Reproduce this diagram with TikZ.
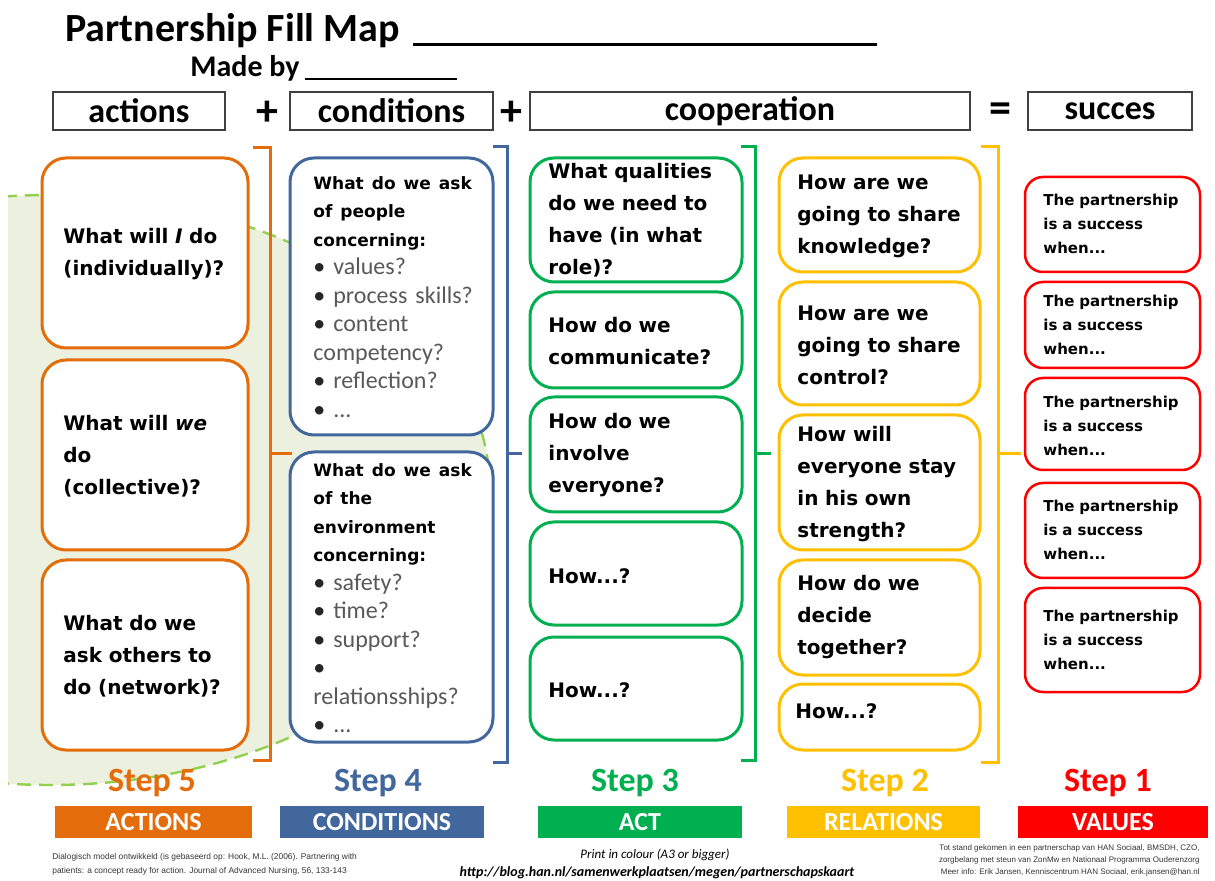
\documentclass[tikz,border=0pt]{standalone}
\usepackage{fontspec}
\setmainfont{Carlito}
\newfontfamily\qfont{DejaVu Sans}
\newfontfamily\notefont{Liberation Sans}

\definecolor{stepfive}{HTML}{E46C0A}
\definecolor{stepfour}{HTML}{41679C}
\definecolor{stepthree}{HTML}{00B050}
\definecolor{steptwo}{HTML}{FFC000}
\definecolor{stepone}{HTML}{FF0000}
\definecolor{fieldgreen}{HTML}{EBF1DE}
\definecolor{fielddash}{HTML}{92D050}
\definecolor{askgray}{HTML}{595959}

% header of a blue box and one bullet line in it
\newcommand\askhead{\qfont\bfseries\fontsize{8.5}{14.25}\selectfont}
\newcommand\askplain{\rmfamily\mdseries\fontsize{12}{14.25}\selectfont\color{askgray}}
\newcommand\askitem[1]{\rmfamily\mdseries\fontsize{12}{14.25}\selectfont{\color{black!85}•}~{\color{askgray}#1}}

\tikzset{
  qbox/.style={draw=#1, line width=1.5pt, rounded corners=12pt, fill=white},
  valbox/.style={draw=stepone, line width=1.25pt, rounded corners=9pt, fill=white},
  qtext/.style={anchor=west, inner sep=0pt, align=left, text width=95pt,
    font=\qfont\bfseries\fontsize{10}{16}\selectfont},
  asktext/.style={anchor=west, inner sep=0pt, align=left, text width=92pt,
    font=\fontsize{12}{14.25}\selectfont},
  valtext/.style={anchor=west, inner sep=0pt, align=left, text width=80pt,
    font=\qfont\bfseries\fontsize{7.5}{12}\selectfont},
  headbox/.style={draw=black!75, line width=0.8pt, inner sep=0pt,
    minimum height=19pt, font=\bfseries\fontsize{17}{20}\selectfont},
  brack/.style={draw=#1, line width=1.5pt},
  steplabel/.style={font=\bfseries\fontsize{17}{20}\selectfont, inner sep=0pt},
  stepbar/.style={minimum height=16pt, inner sep=0pt, text=white,
    font=\bfseries\fontsize{13}{15}\selectfont}
}

\begin{document}
\begin{tikzpicture}[
  % one unit is one pixel of the 1215 x 881 sheet, y runs downward
  x=0.5pt,
  y=-0.5pt
]

\useasboundingbox (0,0) rectangle (1215,881);

% Green field behind the first two columns
\begin{scope}
  \clip (8,0) rectangle (1215,881);
  \draw[fill=fieldgreen, draw=fielddash, line width=1.2pt, dash pattern=on 7pt off 4pt]
    (50,490) ellipse [x radius=220pt, y radius=147.5pt];
\end{scope}

% Title and "Made by"
\node[anchor=base west, inner sep=0pt, font=\bfseries\fontsize{20}{24}\selectfont] (title) at (65,42) {Partnership Fill Map};
\draw[line width=1.5pt] (413,45) -- (877,45);
\node[anchor=base west, inner sep=0pt, font=\bfseries\fontsize{15}{18}\selectfont] (madeby) at (190,77) {Made by};
\draw[line width=1pt] (305,79) -- (457,79);

% Header row: actions + conditions + cooperation = succes
\node[headbox, minimum width=86pt] (hactions) at (139,111) {actions};
\node[font=\bfseries\fontsize{22}{22}\selectfont, inner sep=0pt] (plusa) at (267,113) {+};
\node[headbox, minimum width=101.5pt] (hconditions) at (391.5,111) {conditions};
\node[font=\bfseries\fontsize{22}{22}\selectfont, inner sep=0pt] (plusb) at (511,113) {+};
\node[headbox, minimum width=220pt] (hcooperation) at (750,111) {cooperation};
\node[font=\bfseries\fontsize{22}{22}\selectfont, inner sep=0pt] (equals) at (1000,113) {=};
\node[headbox, minimum width=82pt] (hsucces) at (1110,111) {succes};

% Step 5: actions
\draw[qbox=stepfive] (42,158) rectangle (248,348);
\node[qtext] (act1) at (63,254) {What will \textit{I} do\\(individually)?};
\draw[qbox=stepfive] (42,360) rectangle (248,550);
\node[qtext] (act2) at (63,456) {What will \textit{we}\\do\\(collective)?};
\draw[qbox=stepfive] (42,560) rectangle (248,750);
\node[qtext] (act3) at (63,656) {What do we\\ask others to\\do (network)?};
\draw[brack=stepfive] (253,148) -- (270,148) -- (270,760) -- (253,760)
      (270,454) -- (292,454);

% Step 4: conditions
\draw[qbox=stepfour] (290,158) rectangle (493,435);
\node[asktext] (cond1) at (313,297) {\askhead What do we ask\\of people\\concerning:\\\askitem{values?}\\\askitem{process skills?}\\\askitem{content}\\\askplain competency?\\\askitem{reflection?}\\\askitem{...}};
\draw[qbox=stepfour] (290,452) rectangle (493,742);
\node[asktext] (cond2) at (313,598) {\askhead What do we ask\\of the\\environment\\concerning:\\\askitem{safety?}\\\askitem{time?}\\\askitem{support?}\\\askitem{}\\\askplain relationsships?\\\askitem{...}};
\draw[brack=stepfour] (493,147) -- (507,147) -- (507,762) -- (493,762)
      (507,454) -- (522,454);

% Step 3: act
\draw[qbox=stepthree] (530,158) rectangle (742,282);
\node[qtext] (coop1) at (548,220) {What qualities\\do we need to\\have (in what\\role)?};
\draw[qbox=stepthree] (530,292) rectangle (742,388);
\node[qtext] (coop2) at (548,341) {How do we\\communicate?};
\draw[qbox=stepthree] (530,397) rectangle (742,512);
\node[qtext] (coop3) at (548,455) {How do we\\involve\\everyone?};
\draw[qbox=stepthree] (530,522) rectangle (742,625);
\node[qtext] (coop4) at (548,576) {How...?};
\draw[qbox=stepthree] (530,637) rectangle (742,740);
\node[qtext] (coop5) at (548,690) {How...?};
\draw[brack=stepthree] (741,147) -- (755,147) -- (755,760) -- (741,760)
      (755,454) -- (771,454);

% Step 2: relations
\draw[qbox=steptwo] (779,158) rectangle (980,272);
\node[qtext] (rel1) at (797,216) {How are we\\going to share\\knowledge?};
\draw[qbox=steptwo] (779,282) rectangle (980,405);
\node[qtext] (rel2) at (797,345) {How are we\\going to share\\control?};
\draw[qbox=steptwo] (779,415) rectangle (980,550);
\node[qtext] (rel3) at (797,484) {How will\\everyone stay\\in his own\\strength?};
\draw[qbox=steptwo] (779,560) rectangle (980,675);
\node[qtext] (rel4) at (797,617) {How do we\\decide\\together?};
\draw[qbox=steptwo] (779,684) rectangle (980,750);
\node[qtext] (rel5) at (795,711) {How...?};
\draw[brack=steptwo] (981,147) -- (998,147) -- (998,762) -- (981,762)
      (998,454) -- (1021,454);

% Step 1: values
\draw[valbox] (1025,177) rectangle (1200,272);
\node[valtext] (val1) at (1043,224) {The partnership\\is a success\\when...};
\draw[valbox] (1025,282) rectangle (1200,368);
\node[valtext] (val2) at (1043,325) {The partnership\\is a success\\when...};
\draw[valbox] (1025,378) rectangle (1200,470);
\node[valtext] (val3) at (1043,426) {The partnership\\is a success\\when...};
\draw[valbox] (1025,483) rectangle (1200,578);
\node[valtext] (val4) at (1043,530) {The partnership\\is a success\\when...};
\draw[valbox] (1025,588) rectangle (1200,692);
\node[valtext] (val5) at (1043,640) {The partnership\\is a success\\when...};

% Step labels
\node[steplabel, text=stepfive] (stepv) at (152,783) {Step 5};
\node[steplabel, text=stepfour] (stepiv) at (378,783) {Step 4};
\node[steplabel, text=stepthree] (stepiii) at (635,783) {Step 3};
\node[steplabel, text=steptwo] (stepii) at (885,783) {Step 2};
\node[steplabel, text=stepone] (stepi) at (1108,783) {Step 1};

% Coloured bars
\node[stepbar, fill=stepfive, minimum width=98.5pt] (barv) at (153.5,822) {ACTIONS};
\node[stepbar, fill=stepfour, minimum width=102pt] (bariv) at (382,822) {CONDITIONS};
\node[stepbar, fill=stepthree, minimum width=102pt] (bariii) at (640,822) {ACT};
\node[stepbar, fill=steptwo, minimum width=96.5pt] (barii) at (883.5,822) {RELATIONS};
\node[stepbar, fill=stepone, minimum width=95pt] (bari) at (1113,822) {VALUES};

% Footnotes
\node[anchor=west, align=left, inner sep=0pt, text=black!80, font=\notefont\fontsize{4.2}{7}\selectfont] (cite) at (52,864)
  {Dialogisch model ontwikkeld (is gebaseerd op: Hook, M.L. (2006). Partnering with\\patients: a concept ready for action. Journal of Advanced Nursing, 56, 133-143};
\node[inner sep=0pt, font=\itshape\fontsize{6.5}{8}\selectfont] (print) at (655,855) {Print in colour (A3 or bigger)};
\node[inner sep=0pt, font=\bfseries\itshape\fontsize{7}{8}\selectfont] (url) at (657,873) {http://blog.han.nl/samenwerkplaatsen/megen/partnerschapskaart};
\node[anchor=east, align=right, inner sep=0pt, text=black!80, font=\notefont\fontsize{4}{6}\selectfont] (credits) at (1200,860)
  {Tot stand gekomen in een partnerschap van HAN Sociaal, BMSDH, CZO,\\zorgbelang met steun van ZonMw en Nationaal Programma Ouderenzorg\\Meer info: Erik Jansen, Kenniscentrum HAN Sociaal, erik.jansen@han.nl};

\end{tikzpicture}
\end{document}
